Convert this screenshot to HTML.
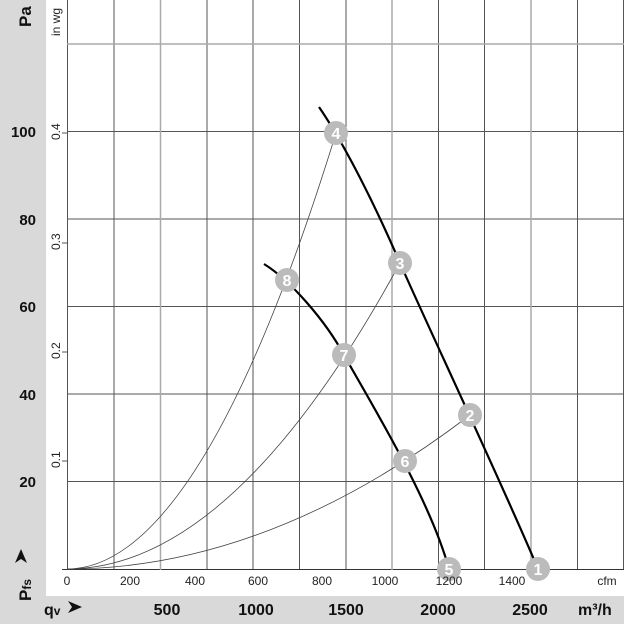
<!DOCTYPE html>
<html><head><meta charset="utf-8"><style>
html,body{margin:0;padding:0;background:#fff}
svg{display:block;font-family:"Liberation Sans",sans-serif}
</style></head><body>
<svg width="624" height="624" viewBox="0 0 624 624">
<rect x="0" y="0" width="46" height="596" fill="#d9d9d9"/>
<rect x="0" y="596" width="624" height="28" fill="#d9d9d9"/>
<g stroke="#555" stroke-width="1">
<line x1="67.5" y1="0" x2="67.5" y2="570"/>
<line x1="114" y1="0" x2="114" y2="570"/>
<line x1="207" y1="0" x2="207" y2="570"/>
<line x1="253" y1="0" x2="253" y2="570"/>
<line x1="299.5" y1="0" x2="299.5" y2="570"/>
<line x1="346" y1="0" x2="346" y2="570"/>
<line x1="438.5" y1="0" x2="438.5" y2="570"/>
<line x1="484.5" y1="0" x2="484.5" y2="570"/>
<line x1="577.5" y1="0" x2="577.5" y2="570"/>
<line x1="623.5" y1="0" x2="623.5" y2="570"/>
<line x1="67" y1="131.5" x2="624" y2="131.5"/>
<line x1="67" y1="219" x2="624" y2="219"/>
<line x1="67" y1="306.5" x2="624" y2="306.5"/>
<line x1="67" y1="394" x2="624" y2="394"/>
<line x1="67" y1="481.5" x2="624" y2="481.5"/>
<line x1="62" y1="569.5" x2="624" y2="569.5" stroke="#333"/>
<line x1="62" y1="133" x2="67" y2="133"/>
<line x1="62" y1="243" x2="67" y2="243"/>
<line x1="62" y1="352" x2="67" y2="352"/>
<line x1="62" y1="461" x2="67" y2="461"/>
</g>
<g stroke="#aaa" stroke-width="1.5">
<line x1="160.5" y1="0" x2="160.5" y2="570"/>
<line x1="392" y1="0" x2="392" y2="570"/>
<line x1="531" y1="0" x2="531" y2="570"/>
<line x1="67" y1="44" x2="624" y2="44"/>
</g>
<g fill="none" stroke="#444" stroke-width="0.8">
<path d="M67,569 Q201.5,569 336,133"/>
<path d="M67,569 Q233.5,569 400,263"/>
<path d="M67,569 Q268.5,569 470,415"/>
</g>
<g fill="none" stroke="#000" stroke-width="2.2">
<path d="M319,107 C345,145 375,205 400,263 C425,320 505,490 538,569"/>
<path d="M264,264 C290,280 325,320 344,355 C375,410 430,500 449,569"/>
</g>
<g fill="#bbb">
<circle cx="538" cy="569" r="12"/><circle cx="470" cy="415" r="12"/>
<circle cx="400" cy="263" r="12"/><circle cx="336" cy="133" r="12"/>
<circle cx="449" cy="569" r="12"/><circle cx="405" cy="461" r="12"/>
<circle cx="344" cy="355" r="12"/><circle cx="287" cy="280" r="12"/>
</g>
<g fill="#fff" font-weight="bold" font-size="16" text-anchor="middle">
<text x="538" y="575">1</text><text x="470" y="421">2</text>
<text x="400" y="269">3</text><text x="336" y="139">4</text>
<text x="449" y="575">5</text><text x="405" y="467">6</text>
<text x="344" y="361">7</text><text x="287" y="286">8</text>
</g>
<g font-size="12" fill="#222" text-anchor="middle">
<text x="67" y="585">0</text><text x="130" y="585">200</text>
<text x="195" y="585">400</text><text x="258" y="585">600</text>
<text x="322" y="585">800</text><text x="385" y="585">1000</text>
<text x="449" y="585">1200</text><text x="512" y="585">1400</text>
<text x="607" y="585">cfm</text>
</g>
<g font-size="12" fill="#222">
<text transform="translate(60,140) rotate(-90)">0.4</text>
<text transform="translate(60,250) rotate(-90)">0.3</text>
<text transform="translate(60,359) rotate(-90)">0.2</text>
<text transform="translate(60,468) rotate(-90)">0.1</text>
<text transform="translate(60,36) rotate(-90)">in wg</text>
</g>
<g font-size="15" font-weight="bold" fill="#111" text-anchor="end">
<text x="36" y="137">100</text><text x="36" y="225">80</text>
<text x="36" y="312">60</text><text x="36" y="400">40</text>
<text x="36" y="487">20</text>
</g>
<text transform="translate(31,27) rotate(-90)" font-size="17" font-weight="bold" fill="#111">Pa</text>
<text transform="translate(31,601) rotate(-90)" font-size="17" font-weight="bold" fill="#111">P<tspan font-size="12">fs</tspan></text>
<path d="M14,550 L28,556 L14,562 L18,556 Z" transform="rotate(-90 21 556)" fill="#111"/>
<g font-size="16" font-weight="bold" fill="#111">
<text x="44" y="615">q<tspan font-size="12">v</tspan></text>
<text x="167" y="615" text-anchor="middle">500</text>
<text x="256" y="615" text-anchor="middle">1000</text>
<text x="346" y="615" text-anchor="middle">1500</text>
<text x="438" y="615" text-anchor="middle">2000</text>
<text x="530" y="615" text-anchor="middle">2500</text>
<text x="578" y="615">m³/h</text>
</g>
<path d="M68,601 L82,607 L68,613 L72,607 Z" fill="#111"/>
</svg>
</body></html>
